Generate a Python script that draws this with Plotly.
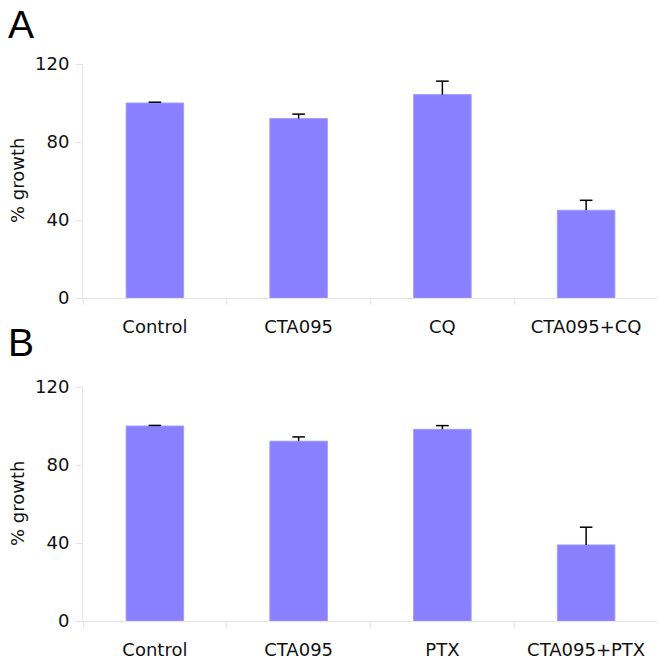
import plotly.graph_objects as go
from plotly.subplots import make_subplots

cats_a = ['Control', 'CTA095', 'CQ', 'CTA095+CQ']
growth_a = [100, 92, 104.3, 45]
err_a = [0.4, 2.3, 6.9, 5.1]

cats_b = ['Control', 'CTA095', 'PTX', 'CTA095+PTX']
growth_b = [100, 92.2, 98.3, 39]
err_b = [0.3, 2.2, 1.9, 9.1]

bar_col = '#8880ff'
grid_col = '#e4e4e4'
font_fam = 'DejaVu Sans'

# page body has an 8px margin, so the figure is drawn 8px in from the corner
W, H = 657, 654
L, R = 75, 7
PW = W - L - R

fig = make_subplots(rows=2, cols=1)

for i, (cats, vals, errs) in enumerate([(cats_a, growth_a, err_a), (cats_b, growth_b, err_b)]):
    fig.add_trace(go.Bar(
        x=cats, y=vals, width=0.4,
        marker=dict(color=bar_col, line=dict(color='#a09aff', width=1)),
        error_y=dict(type='data', symmetric=False, array=errs, arrayminus=[0] * len(errs),
                     color='black', thickness=1.5, width=0),
        showlegend=False,
    ), row=i + 1, col=1)
    # caps only on the upper end
    tops = [v + e for v, e in zip(vals, errs)]
    fig.add_trace(go.Scatter(
        x=cats, y=tops, mode='markers',
        marker=dict(symbol='line-ew', size=9, line=dict(color='black', width=1.5)),
        showlegend=False, hoverinfo='skip',
    ), row=i + 1, col=1)

dom_a = [1 - 290 / H, 1 - 56 / H]
dom_b = [1 - 613 / H, 1 - 379 / H]

for r, dom in [(1, dom_a), (2, dom_b)]:
    fig.update_yaxes(range=[0, 120], dtick=40, tick0=0, domain=dom, automargin=False,
                     showgrid=False, zeroline=False,
                     showline=True, linecolor=grid_col, linewidth=1,
                     ticks='outside', ticklen=6, tickcolor=grid_col,
                     ticklabelstandoff=3,
                     tickfont=dict(size=18, color='#111', family=font_fam),
                     row=r, col=1)
    fig.update_xaxes(showgrid=False, zeroline=False, tickson='boundaries', automargin=False,
                     showline=True, linecolor=grid_col, linewidth=1,
                     ticks='outside', ticklen=6, tickcolor=grid_col,
                     ticklabelstandoff=12,
                     tickfont=dict(size=18, color='#111', family=font_fam),
                     row=r, col=1)

    # y title as annotation so its position is fixed
    fig.add_annotation(text='% growth', textangle=-90, xref='paper', yref='paper',
                       x=(9 - L) / PW, y=(dom[0] + dom[1]) / 2,
                       showarrow=False, xanchor='center', yanchor='middle',
                       font=dict(size=18, color='#111', family=font_fam))

for lab, yy in [('A', 16), ('B', 334)]:
    fig.add_annotation(text=lab, xref='paper', yref='paper',
                       x=(13 - L) / PW, y=1 - yy / H,
                       showarrow=False, xanchor='center', yanchor='middle',
                       font=dict(size=39, color='black', family='Liberation Sans'))

fig.update_layout(
    width=W, height=H,
    margin=dict(l=L, r=R, t=0, b=0, autoexpand=False),
    plot_bgcolor='white', paper_bgcolor='white',
    bargap=0.6,
)

fig.write_html("out.html")
